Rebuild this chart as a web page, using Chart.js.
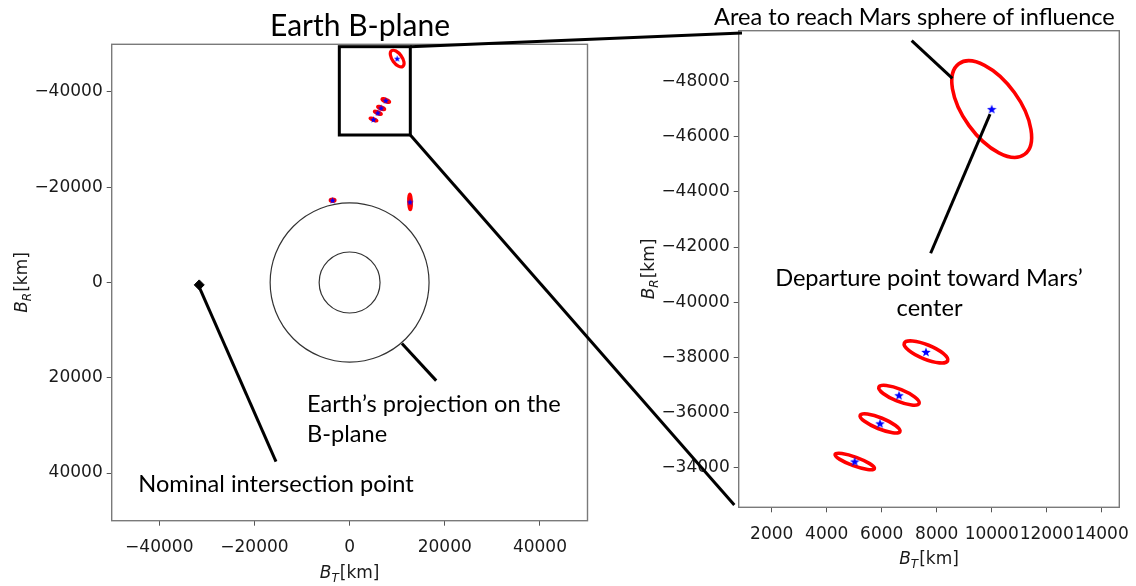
<!DOCTYPE html>
<html lang="en">
<head>
<meta charset="UTF-8">
<title>Earth B-plane</title>
<script src="https://cdn.jsdelivr.net/npm/chart.js"></script>
<style>
  html, body { margin: 0; padding: 0; background: #fff; }
  #wrap { position: relative; width: 1136px; height: 586px; overflow: hidden; }
  #leftChart { position: absolute; left: 0; top: 0; }
  #rightChart { position: absolute; left: 640px; top: 0; }
  #overlay { position: absolute; left: 0; top: 0; pointer-events: none; }
</style>
</head>
<body>
<div id="wrap">
  <canvas id="leftChart" width="600" height="586"></canvas>
  <canvas id="rightChart" width="496" height="586"></canvas>
  <canvas id="overlay" width="1136" height="586"></canvas>
</div>
<script>
// ---- values (km) ----
// blue stars = centres of the red dispersion ellipses
const starX = [10000, 7610, 6630, 5940, 5020, -3570, 12700];
const starY = [-47000, -38200, -36630, -35610, -34230, -17270, -16910];
// ellipse semi-axes (km) and tilt (deg)
const ellA = [2030, 850, 790, 780, 760, 500, 1640];
const ellB = [1020, 260, 220, 200, 160, 250, 280];
const ellRot = [54, 22, 22, 22, 20, 0, 88];
// nominal intersection point
const nominalX = [-31600];
const nominalY = [500];
// Earth's projection (two circles round the origin)
const earthR = [6400, 16700];
// zoom box drawn on the left plot
const boxX = [-2160, 12760];
const boxY = [-49500, -30960];

// axes
const leftRange = [-50000, 50000];
const leftTicks = [-40000, -20000, 0, 20000, 40000];
const rightXRange = [800, 14640];
const rightYRange = [-49840, -32570];
const rightXTicks = [2000, 4000, 6000, 8000, 10000, 12000, 14000];
const rightYTicks = [-48000, -46000, -44000, -42000, -40000, -38000, -36000, -34000];

// annotations (in the data units of the plot they sit on)
const leftNotes = [
  { text: 'Nominal intersection point', x: -44400, y: 43900, align: 'left' },
  { text: 'Earth\u2019s projection on the', x: -8950, y: 27250, align: 'left' },
  { text: 'B-plane', x: -8950, y: 33550, align: 'left' }
];
const leftPointers = [[-31600, 950, -15470, 37600], [11000, 12800, 18200, 20600]];
const rightNotes = [
  { text: 'Area to reach Mars sphere of influence', x: 7190, y: -50050, align: 'center' },
  { text: 'Departure point toward Mars\u2019', x: 7720, y: -40600, align: 'center' },
  { text: 'center', x: 7740, y: -39500, align: 'center' }
];
const rightPointers = [[7090, -49480, 8570, -48115], [9940, -46820, 7780, -41775]];
// where the zoom connectors land on the right plot
const linkRX = [920, 640];
const linkRY = [-49757, -32655];

Chart.defaults.font.family = "'DejaVu Sans'";
Chart.defaults.font.size = 17;
const tickFont = { family: "'DejaVu Sans'", size: 17 };
const noteFont = "23.6px Lato";
const minus = v => (v < 0 ? '\u2212' + Math.abs(v) : String(v));

function makeStar(size, color) {
  const c = document.createElement('canvas');
  c.width = c.height = size;
  const g = c.getContext('2d');
  const r = size / 2, ri = r * 0.42;
  g.beginPath();
  for (let i = 0; i < 10; i++) {
    const ang = -Math.PI / 2 + i * Math.PI / 5;
    const rr = i % 2 ? ri : r;
    g.lineTo(r + rr * Math.cos(ang), r + 0.1 * r + rr * Math.sin(ang));
  }
  g.closePath();
  g.fillStyle = color;
  g.fill();
  return c;
}

function axis(range, ticks, reverse, fixed, pad) {
  return {
    type: 'linear', min: range[0], max: range[1], reverse: reverse,
    border: { display: false },
    grid: { drawOnChartArea: false, drawTicks: true, tickLength: 5, color: '#555' },
    ticks: { font: tickFont, color: '#1a1a1a', padding: pad, autoSkip: false, maxRotation: 0, callback: minus },
    afterBuildTicks: s => { s.ticks = ticks.map(v => ({ value: v })); },
    afterFit: s => {
      if (s.isHorizontal()) s.height = fixed; else s.width = fixed;
      s.paddingLeft = s.paddingRight = s.paddingTop = s.paddingBottom = 0;
    }
  };
}

function ellipsePath(ctx, xs, ys, cx, cy, a, b, rotDeg) {
  const px = xs.getPixelForValue(cx), py = ys.getPixelForValue(cy);
  const sx = (xs.getPixelForValue(cx + 1000) - px) / 1000;
  const sy = (ys.getPixelForValue(cy + 1000) - py) / 1000;
  ctx.save();
  ctx.translate(px, py);
  ctx.scale(sx, sy);
  ctx.beginPath();
  ctx.ellipse(0, 0, a, b, rotDeg * Math.PI / 180, 0, 2 * Math.PI);
  ctx.restore();
}

// B with subscript, then [km]
function mathLabel(ctx, sub, x, y, vertical) {
  const big = "17px 'DejaVu Sans'", it = "italic 17px 'DejaVu Sans'", small = "italic 12px 'DejaVu Sans'";
  ctx.save();
  ctx.translate(x, y);
  if (vertical) ctx.rotate(-Math.PI / 2);
  ctx.fillStyle = '#1a1a1a';
  ctx.textBaseline = 'alphabetic';
  ctx.font = it; const wB = ctx.measureText('B').width;
  ctx.font = small; const wS = ctx.measureText(sub).width;
  ctx.font = big; const wK = ctx.measureText('[km]').width;
  let cx = -(wB + wS + 1 + wK) / 2;
  ctx.textAlign = 'left';
  ctx.font = it; ctx.fillText('B', cx, 0); cx += wB;
  ctx.font = small; ctx.fillText(sub, cx, 4); cx += wS + 1;
  ctx.font = big; ctx.fillText('[km]', cx, 0);
  ctx.restore();
}

function marks(opts) {
  return {
    id: 'marks',
    beforeDatasetsDraw(chart) {
      const { ctx, chartArea: ca, scales: { x, y } } = chart;
      ctx.save();
      ctx.beginPath();
      ctx.rect(ca.left, ca.top, ca.width, ca.height);
      ctx.clip();
      if (opts.earth) {
        earthR.forEach(r => {
          ellipsePath(ctx, x, y, 0, 0, r, r, 0);
          ctx.strokeStyle = '#333';
          ctx.lineWidth = 1.2;
          ctx.stroke();
        });
      }
      starX.forEach((cx, i) => {
        ellipsePath(ctx, x, y, cx, starY[i], ellA[i], ellB[i], ellRot[i]);
        ctx.strokeStyle = '#ff0000';
        ctx.lineWidth = opts.ellWidth;
        ctx.stroke();
      });
      ctx.restore();
    },
    afterDraw(chart) {
      const { ctx, chartArea: ca, scales: { x, y } } = chart;
      ctx.save();
      ctx.strokeStyle = '#7a7a7a';
      ctx.lineWidth = 1.4;
      ctx.strokeRect(ca.left, ca.top, ca.width, ca.height);
      if (opts.box) {
        const x0 = x.getPixelForValue(boxX[0]), x1 = x.getPixelForValue(boxX[1]);
        const y0 = y.getPixelForValue(boxY[0]), y1 = y.getPixelForValue(boxY[1]);
        ctx.strokeStyle = '#000';
        ctx.lineWidth = 3;
        ctx.strokeRect(x0, y0, x1 - x0, y1 - y0);
      }
      ctx.restore();
      mathLabel(ctx, 'T', (ca.left + ca.right) / 2, ca.bottom + 57, false);
      mathLabel(ctx, 'R', ca.left - 85, (ca.top + ca.bottom) / 2, true);
    }
  };
}

const starBig = makeStar(10, '#0000ff');
const starSmall = makeStar(7, '#0000ff');
const pts = (xs, ys) => xs.map((v, i) => ({ x: v, y: ys[i] }));

const chartL = new Chart(document.getElementById('leftChart'), {
  type: 'scatter',
  data: {
    datasets: [
      { data: pts(nominalX, nominalY), pointStyle: 'rectRot', pointRadius: 5, backgroundColor: '#000', borderColor: '#000', borderWidth: 1 },
      { data: pts(starX, starY), pointStyle: starSmall, pointRadius: 4, backgroundColor: '#00f', borderWidth: 0 }
    ]
  },
  options: {
    responsive: false, animation: false, events: [],
    layout: { padding: { top: 44.3, right: 12.5, left: 0, bottom: 0 } },
    plugins: { legend: { display: false }, tooltip: { enabled: false } },
    scales: {
      x: axis(leftRange, leftTicks, false, 65.3, 12),
      y: axis(leftRange, leftTicks, true, 111.7, 4)
    }
  },
  plugins: [marks({ earth: true, box: true, ellWidth: 3.2 })]
});

const chartR = new Chart(document.getElementById('rightChart'), {
  type: 'scatter',
  data: {
    datasets: [
      { data: pts(starX, starY), pointStyle: starBig, pointRadius: 5, backgroundColor: '#00f', borderWidth: 0 }
    ]
  },
  options: {
    responsive: false, animation: false, events: [],
    layout: { padding: { top: 30.7, right: 16.7, left: 0, bottom: 0 } },
    plugins: { legend: { display: false }, tooltip: { enabled: false } },
    scales: {
      x: axis(rightXRange, rightXTicks, false, 78.7, 12),
      y: axis(rightYRange, rightYTicks, true, 98.7, 4)
    }
  },
  plugins: [marks({ earth: false, box: false, ellWidth: 3.6 })]
});

// ---- overlay: title, call-outs and the zoom connectors ----
function drawOverlay() {
  const ctx = document.getElementById('overlay').getContext('2d');
  const offL = document.getElementById('leftChart').offsetLeft;
  const offR = document.getElementById('rightChart').offsetLeft;
  const L = (x, y) => [offL + chartL.scales.x.getPixelForValue(x), chartL.scales.y.getPixelForValue(y)];
  const R = (x, y) => [offR + chartR.scales.x.getPixelForValue(x), chartR.scales.y.getPixelForValue(y)];
  const seg = (a, b) => { ctx.beginPath(); ctx.moveTo(a[0], a[1]); ctx.lineTo(b[0], b[1]); ctx.stroke(); };

  ctx.strokeStyle = '#000';
  ctx.lineWidth = 3;
  ctx.lineCap = 'butt';
  leftPointers.forEach(p => seg(L(p[0], p[1]), L(p[2], p[3])));
  rightPointers.forEach(p => seg(R(p[0], p[1]), R(p[2], p[3])));
  // zoom connectors from the box corners
  seg(L(boxX[1], boxY[0]), R(linkRX[0], linkRY[0]));
  seg(L(boxX[1], boxY[1]), R(linkRX[1], linkRY[1]));

  ctx.fillStyle = '#000';
  ctx.textBaseline = 'alphabetic';
  ctx.font = noteFont;
  leftNotes.forEach(n => { const p = L(n.x, n.y); ctx.textAlign = n.align; ctx.fillText(n.text, p[0], p[1]); });
  rightNotes.forEach(n => { const p = R(n.x, n.y); ctx.textAlign = n.align; ctx.fillText(n.text, p[0], p[1]); });

  ctx.font = "30px Lato";
  ctx.textAlign = 'center';
  const t = L(2200, -51800);
  ctx.fillText('Earth B-plane', t[0], t[1]);
}
drawOverlay();
</script>
</body>
</html>
